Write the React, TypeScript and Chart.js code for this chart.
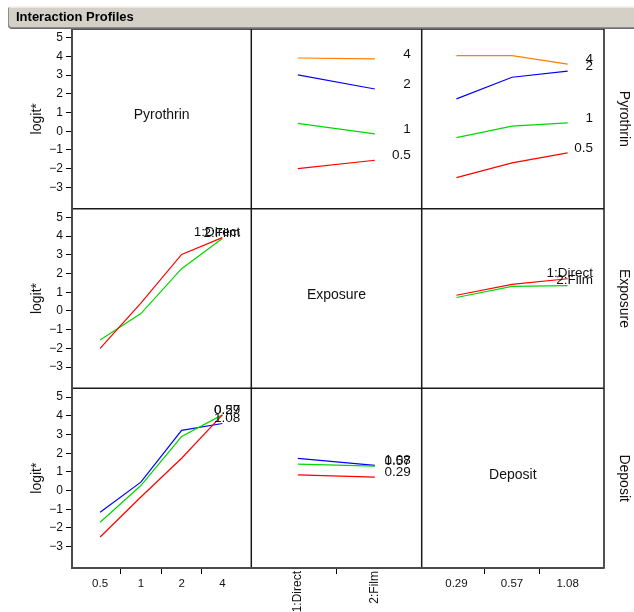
import React, { useEffect, useRef } from 'react';
import { Chart, registerables } from 'chart.js';

Chart.register(...registerables);

const FONT = '"Liberation Sans", Arial, sans-serif';

// Factor levels
const pyrothrinLevels = ['0.5', '1', '2', '4'];
const exposureLevels = ['1:Direct', '2:Film'];
const depositLevels = ['0.29', '0.57', '1.08'];

// logit* cell means, Pyrothrin × Exposure (one value per Pyrothrin level)
const pyrExpDirect = [-2.0, 0.42, 3.02, 3.92];
const pyrExpFilm = [-1.55, -0.14, 2.26, 3.87];

// logit* cell means, Pyrothrin × Deposit (one value per Pyrothrin level)
const pyrDep029 = [-2.48, -0.34, 1.73, 4.05];
const pyrDep057 = [-1.69, 0.27, 2.89, 4.05];
const pyrDep108 = [-1.16, 0.45, 3.22, 3.59];

// logit* cell means, Exposure × Deposit (one value per Deposit level)
const expDepDirect = [0.84, 1.42, 1.72];
const expDepFilm = [0.72, 1.31, 1.35];

const yTickValues = [-3, -2, -1, 0, 1, 2, 3, 4, 5];

const pyrothrinColors = ['#ff0000', '#00d800', '#0000ff', '#ff7f00'];
const exposureColors = ['#ff0000', '#00d800'];
const depositColors = ['#ff0000', '#00d800', '#0000ff'];

const factorNames = ['Pyrothrin', 'Exposure', 'Deposit'];

const Y_MIN = -4.14;
const Y_MAX = 5.47;

const pyrDepRows = [pyrDep029, pyrDep057, pyrDep108];
const expDepRows = [expDepDirect, expDepFilm];
const pyrExpRows = [pyrExpDirect, pyrExpFilm];

function series(label: string, color: string, xAxisID: string, yAxisID: string, values: number[]) {
  return {
    label,
    endLabel: label,
    borderColor: color,
    backgroundColor: color,
    xAxisID,
    yAxisID,
    data: values.map((v, i) => ({ x: i, y: v })),
  };
}

function buildDatasets() {
  const ds: any[] = [];
  // Row 1: traced by Pyrothrin
  pyrothrinLevels.forEach((lv, i) => {
    ds.push(series(lv, pyrothrinColors[i], 'x2', 'y1', pyrExpRows.map((r) => r[i])));
    ds.push(series(lv, pyrothrinColors[i], 'x3', 'y1', pyrDepRows.map((r) => r[i])));
  });
  // Row 2: traced by Exposure
  exposureLevels.forEach((lv, j) => {
    ds.push(series(lv, exposureColors[j], 'x1', 'y2', pyrExpRows[j]));
    ds.push(series(lv, exposureColors[j], 'x3', 'y2', expDepRows[j]));
  });
  // Row 3: traced by Deposit
  depositLevels.forEach((lv, k) => {
    ds.push(series(lv, depositColors[k], 'x1', 'y3', pyrDepRows[k]));
    ds.push(series(lv, depositColors[k], 'x2', 'y3', expDepRows.map((r) => r[k])));
  });
  return ds;
}

function levelAxis(levels: string[], min: number, max: number, weight: number, stackWeight: number, rotated: boolean) {
  return {
    type: 'linear',
    position: 'bottom',
    stack: 'cols',
    stackWeight,
    weight,
    min,
    max,
    afterBuildTicks: (scale: any) => {
      const t: any[] = [];
      for (let v = 0; v <= levels.length - 1 + 1e-9; v += 0.5) t.push({ value: v });
      scale.ticks = t;
    },
    afterFit: (scale: any) => {
      scale.height = 44;
    },
    grid: {
      drawOnChartArea: false,
      drawTicks: true,
      tickLength: 6,
      tickWidth: 1,
      tickColor: (c: any) => (c.tick && c.tick.value % 1 !== 0 ? '#000' : 'rgba(0,0,0,0)'),
    },
    border: { display: false },
    ticks: {
      autoSkip: false,
      maxRotation: rotated ? 90 : 0,
      minRotation: rotated ? 90 : 0,
      padding: rotated ? -3 : 3,
      color: '#111',
      font: { family: FONT, size: rotated ? 12 : 11.5 },
      callback: (v: number) => (Number.isInteger(v) ? levels[v] : ''),
    },
  };
}

function valueAxis(weight: number) {
  return {
    type: 'linear',
    position: 'left',
    stack: 'rows',
    stackWeight: 1,
    weight,
    min: Y_MIN,
    max: Y_MAX,
    afterBuildTicks: (scale: any) => {
      scale.ticks = yTickValues.map((v) => ({ value: v }));
    },
    afterFit: (scale: any) => {
      scale.width = 72;
    },
    grid: { drawOnChartArea: false, drawTicks: true, tickLength: 6, tickColor: '#000' },
    border: { display: false },
    ticks: {
      autoSkip: false,
      padding: 3,
      color: '#111',
      font: { family: FONT, size: 12 },
      callback: (v: number) => (v < 0 ? '\u2212' + Math.abs(v) : String(v)),
    },
  };
}

const panelPlugin = {
  id: 'panelDecor',
  afterDatasetsDraw(chart: any) {
    const ctx = chart.ctx;
    ctx.save();
    ctx.fillStyle = '#111';
    ctx.font = `13.5px ${FONT}`;
    ctx.textAlign = 'right';
    ctx.textBaseline = 'middle';
    chart.data.datasets.forEach((ds: any, i: number) => {
      if (!ds.endLabel) return;
      const meta = chart.getDatasetMeta(i);
      const last = meta.data[meta.data.length - 1];
      const xs = chart.scales[ds.xAxisID];
      ctx.fillText(ds.endLabel, xs.right - 11, last.y - 5);
    });
    ctx.restore();
  },
  afterDraw(chart: any) {
    const ctx = chart.ctx;
    const xs = [chart.scales.x1, chart.scales.x2, chart.scales.x3];
    const ys = [chart.scales.y1, chart.scales.y2, chart.scales.y3];
    const { left, right, top, bottom } = chart.chartArea;
    ctx.save();

    // cell borders
    ctx.strokeStyle = '#1a1a1a';
    ctx.lineWidth = 1.5;
    ctx.beginPath();
    [xs[0].right, xs[1].right, xs[2].right].forEach((x: number) => {
      ctx.moveTo(x, top);
      ctx.lineTo(x, bottom);
    });
    [ys[0].top, ys[0].bottom, ys[1].bottom].forEach((y: number) => {
      ctx.moveTo(left, y);
      ctx.lineTo(right, y);
    });
    ctx.stroke();
    ctx.strokeStyle = '#4a4a4a';
    ctx.lineWidth = 2;
    ctx.beginPath();
    ctx.moveTo(left, top - 0.75);
    ctx.lineTo(left, bottom);
    ctx.lineTo(right + 0.75, bottom);
    ctx.stroke();

    ctx.fillStyle = '#111';
    ctx.textBaseline = 'middle';
    ctx.textAlign = 'center';
    ctx.font = `14px ${FONT}`;
    factorNames.forEach((name, i) => {
      const cx = (xs[i].left + xs[i].right) / 2;
      const cy = (ys[i].top + ys[i].bottom) / 2;
      ctx.fillText(name, cx, cy - 3.5);

      // row label on the right
      ctx.save();
      ctx.translate(624, cy);
      ctx.rotate(Math.PI / 2);
      ctx.fillText(name, 0, 0);
      ctx.restore();

      // response axis title
      ctx.save();
      ctx.translate(37.5, cy);
      ctx.rotate(-Math.PI / 2);
      ctx.fillText('logit*', 0, 0);
      ctx.restore();
    });
    ctx.restore();
  },
};

export default function App() {
  const ref = useRef<HTMLCanvasElement>(null);

  useEffect(() => {
    const chart = new Chart(ref.current as HTMLCanvasElement, {
      type: 'line',
      data: { datasets: buildDatasets() },
      options: {
        responsive: false,
        animation: false,
        events: [],
        layout: { padding: { top: 29, right: 30, left: 0, bottom: 0 } },
        elements: {
          point: { radius: 0 },
          line: { borderWidth: 1.2, tension: 0 },
        },
        plugins: {
          legend: { display: false },
          tooltip: { enabled: false },
        },
        scales: {
          x1: levelAxis(pyrothrinLevels, -0.69, 3.71, 1, 179.3, false),
          x2: levelAxis(exposureLevels, -0.604, 1.608, 2, 170.4, true),
          x3: levelAxis(depositLevels, -0.625, 2.654, 3, 182.3, false),
          y1: valueAxis(3),
          y2: valueAxis(2),
          y3: valueAxis(1),
        },
      } as any,
      plugins: [panelPlugin],
    });
    return () => chart.destroy();
  }, []);

  return (
    <div style={{ position: 'fixed', left: 0, top: 0, width: 634, height: 612, background: '#fff', overflow: 'hidden' }}>
      <canvas ref={ref} width={634} height={612} style={{ position: 'absolute', left: 0, top: 0, width: 634, height: 612 }} />
      <div
        style={{
          position: 'absolute',
          left: 8,
          top: 6,
          width: 640,
          height: 22,
          boxSizing: 'border-box',
          border: '1px solid #8c8c8c',
          borderTopColor: '#f4f3f0',
          borderRadius: 4,
          background: '#d4d0c8',
          boxShadow: 'inset 0 1px 0 #eceae5, 0 1px 0 #6e6e6e',
          font: `bold 13px ${FONT}`,
          lineHeight: '20px',
          paddingLeft: 7,
          color: '#000',
        }}
      >
        Interaction Profiles
      </div>
    </div>
  );
}
